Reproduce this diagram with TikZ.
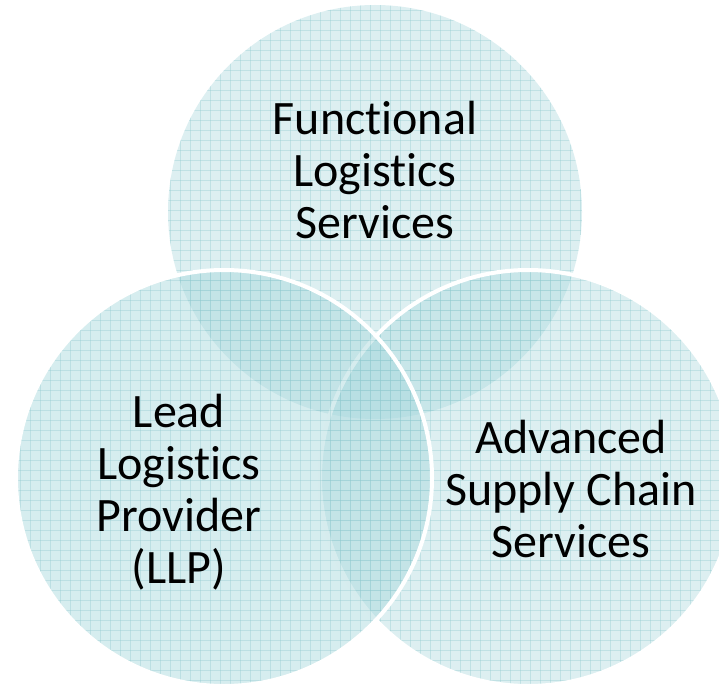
\documentclass[tikz,border=0pt]{standalone}
\usepackage{fontspec}
\setmainfont[Ligatures={NoCommon}]{Carlito}
\definecolor{circfill}{RGB}{165,214,219}
\definecolor{gridc}{RGB}{140,200,205}
\tikzset{
  circ/.style={fill=circfill, fill opacity=0.38},
  rim/.style={draw=white, line width=4pt},
  lbl/.style={align=center, font=\fontsize{48}{52}\selectfont, text=black, inner sep=0pt, anchor=base}
}
\newcommand{\gridin}[2]{%
  \begin{scope}
    \clip #1 circle (#2);
    \foreach \g in {0,10,...,720} {
      \draw[gridc, line width=0.6pt, opacity=0.35] (\g,0) -- (\g,690);
      \draw[gridc, line width=0.6pt, opacity=0.35] (0,\g) -- (720,\g);
    }
  \end{scope}}
\begin{document}
\begin{tikzpicture}[x=1pt,y=-1pt]
\useasboundingbox (0,0) rectangle (719,684);
\begin{scope}
\clip (0,0) rectangle (719,684);
\coordinate (ct) at (375,212);
\coordinate (cr) at (528,478);
\coordinate (cl) at (224,478);
% top circle
\fill[circ] (ct) circle (207);
\gridin{(ct)}{207}
% right circle
\fill[circ] (cr) circle (208);
\gridin{(cr)}{208}
\draw[rim] (cr) circle (208);
% left circle
\fill[circ, fill opacity=0.45] (cl) circle (208);
\gridin{(cl)}{208}
\draw[rim] (cl) circle (208);
\end{scope}
\node[lbl] (ft) at (375,239) {Functional\\Logistics\\Services};
\node[lbl] (fl) at (179,583) {Lead\\Logistics\\Provider\\(LLP)};
\node[lbl] (fr) at (571,557) {Advanced\\Supply Chain\\Services};
\end{tikzpicture}
\end{document}
